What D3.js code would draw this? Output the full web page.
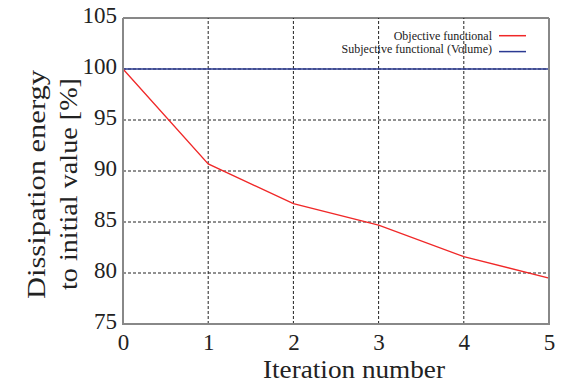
<!DOCTYPE html>
<html>
<head>
<meta charset="utf-8">
<script src="https://cdn.jsdelivr.net/npm/d3@7"></script>
<style>
  html, body { margin: 0; padding: 0; background: #fff; }
  svg text { font-family: "Liberation Serif", "Times New Roman", serif; }
</style>
</head>
<body>
<svg id="chart" width="563" height="385"></svg>
<script>
const iterations = [0, 1, 2, 3, 4, 5];
const objective = [100, 90.7, 86.8, 84.7, 81.6, 79.5];
const subjective = [100, 100, 100, 100, 100, 100];
const yTicks = [75, 80, 85, 90, 95, 100, 105];
const xTicks = [0, 1, 2, 3, 4, 5];
const legendLabels = ["Objective functional", "Subjective functional (Volume)"];

const FONT = "Liberation Serif";
const W = 563, H = 385;
const m = { left: 123, right: 14, top: 18, bottom: 61 };
const svg = d3.select("#chart");

const x = d3.scaleLinear().domain([0, 5]).range([m.left, W - m.right]);
const y = d3.scaleLinear().domain([75, 105]).range([H - m.bottom, m.top]);

// grid
const grid = svg.append("g");
grid.selectAll(".vg").data(xTicks.slice(1, -1)).join("line")
  .attr("x1", d => x(d)).attr("x2", d => x(d))
  .attr("y1", y(75)).attr("y2", y(105))
  .attr("stroke", "#222").attr("stroke-width", 1).attr("stroke-dasharray", "3,2");
grid.selectAll(".hg").data(yTicks.slice(1, -1)).join("line")
  .attr("x1", x(0)).attr("x2", x(5))
  .attr("y1", d => y(d)).attr("y2", d => y(d))
  .attr("stroke", "#222").attr("stroke-width", 1).attr("stroke-dasharray", "3,2");

// axes (labels only)
const yAxis = svg.append("g").attr("transform", `translate(${m.left},0)`)
  .call(d3.axisLeft(y).tickValues(yTicks).tickSize(0).tickPadding(6));
yAxis.attr("font-family", null);
yAxis.select(".domain").remove();
yAxis.selectAll("text").attr("font-size", 23).attr("fill", "#222")
  .style("font-family", FONT).attr("dy", "0.2em");

const xAxis = svg.append("g").attr("transform", `translate(0,${H - m.bottom})`)
  .call(d3.axisBottom(x).tickValues(xTicks).tickFormat(d3.format("d")).tickSize(0).tickPadding(10));
xAxis.attr("font-family", null);
xAxis.select(".domain").remove();
xAxis.selectAll("text").attr("font-size", 23).attr("fill", "#222")
  .style("font-family", FONT);

// series
const line = d3.line().x((d, i) => x(iterations[i])).y(d => y(d));
svg.append("path").datum(subjective).attr("d", line)
  .attr("fill", "none").attr("stroke", "#2b3a92").attr("stroke-width", 1.6);
svg.append("path").datum(objective).attr("d", line)
  .attr("fill", "none").attr("stroke", "#f02828").attr("stroke-width", 1.3);

// frame
svg.append("line").attr("x1", x(0)).attr("x2", x(5)).attr("y1", y(105)).attr("y2", y(105))
  .attr("stroke", "#111").attr("stroke-width", 1);
svg.append("path")
  .attr("d", `M${x(0)},${y(105)}V${y(75)}H${x(5)}V${y(105)}`)
  .attr("fill", "none").attr("stroke", "#888").attr("stroke-width", 2);

// legend
const legColors = ["#f02828", "#2b3a92"];
const legY = [35.7, 51.6];
const legBase = [40, 53.3];
legendLabels.forEach((lab, i) => {
  svg.append("text").attr("x", 492).attr("y", legBase[i]).attr("text-anchor", "end")
    .attr("font-size", 12).attr("fill", "#222").style("font-family", FONT).text(lab);
  svg.append("line").attr("x1", 499).attr("x2", 526).attr("y1", legY[i]).attr("y2", legY[i])
    .attr("stroke", legColors[i]).attr("stroke-width", 1.5);
});

// axis titles
svg.append("text").attr("x", 354).attr("y", 378).attr("text-anchor", "middle")
  .attr("font-size", 25).attr("fill", "#222").style("font-family", FONT)
  .attr("textLength", 182).attr("lengthAdjust", "spacingAndGlyphs")
  .text("Iteration number");

svg.append("text").attr("transform", "translate(45,184.5) rotate(-90)")
  .attr("text-anchor", "middle").attr("font-size", 25.5).attr("fill", "#222").style("font-family", FONT)
  .attr("textLength", 229).attr("lengthAdjust", "spacingAndGlyphs")
  .text("Dissipation energy");
svg.append("text").attr("transform", "translate(77,184) rotate(-90)")
  .attr("text-anchor", "middle").attr("font-size", 25.5).attr("fill", "#222").style("font-family", FONT)
  .attr("textLength", 212).attr("lengthAdjust", "spacingAndGlyphs")
  .text("to initial value [%]");
</script>
</body>
</html>
